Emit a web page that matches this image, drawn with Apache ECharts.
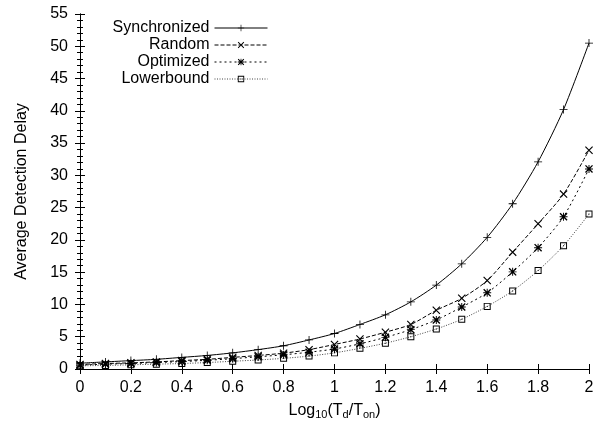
<!DOCTYPE html>
<html>
<head>
<meta charset="utf-8">
<script src="https://cdn.jsdelivr.net/npm/echarts@6/dist/echarts.min.js"></script>
<style>
  html, body { margin: 0; padding: 0; background: #fff; }
  #chart { width: 600px; height: 425px; }
</style>
</head>
<body>
<div id="chart"></div>
<script>
// x = log10(Td/Ton)
var xs = [0, 0.1, 0.2, 0.3, 0.4, 0.5, 0.6, 0.7, 0.8, 0.9, 1.0, 1.1, 1.2, 1.3, 1.4, 1.5, 1.6, 1.7, 1.8, 1.9, 2.0];

var synchronized = [0.9, 1.1, 1.3, 1.5, 1.8, 2.1, 2.5, 3.0, 3.6, 4.5, 5.5, 6.9, 8.4, 10.4, 13.0, 16.3, 20.4, 25.6, 32.1, 40.2, 50.5];
var random = [0.7, 0.85, 0.95, 1.1, 1.3, 1.5, 1.8, 2.1, 2.45, 3.0, 3.8, 4.65, 5.7, 6.9, 9.1, 10.95, 13.7, 18.1, 22.5, 27.1, 33.9];
var optimized = [0.6, 0.75, 0.85, 1.0, 1.15, 1.35, 1.6, 1.9, 2.2, 2.6, 3.1, 3.9, 4.9, 6.1, 7.6, 9.6, 11.8, 15.05, 18.8, 23.6, 31.0];
var lowerbound = [0.5, 0.55, 0.65, 0.75, 0.85, 1.0, 1.2, 1.4, 1.65, 2.0, 2.5, 3.2, 4.0, 5.0, 6.2, 7.7, 9.7, 12.1, 15.25, 19.1, 24.0];

var seriesNames = ['Synchronized', 'Random', 'Optimized', 'Lowerbound'];

// gnuplot-ish point types
var plusPath = 'path://M4.5,0H5.5V10H4.5Z M0,4.5H10V5.5H0Z';
var crossPath = 'path://M0,1L1,0L10,9L9,10Z M9,0L10,1L1,10L0,9Z';
var starPath = 'path://M4.4,0H5.6V10H4.4Z M0,4.4H10V5.6H0Z M0,1.2L1.2,0L10,8.8L8.8,10Z M8.8,0L10,1.2L1.2,10L0,8.8Z';
var boxPath = 'path://M0,0H10V10H0Z M1.4,1.4V8.6H8.6V1.4Z M4.3,4.3H5.7V5.7H4.3Z';

var font = 'Liberation Sans, Arial, Helvetica, sans-serif';

function pairs(ys) {
  return xs.map(function (x, i) { return [x, ys[i]]; });
}

function makeSeries(name, ys, symbol, size, dash, lineColor) {
  return {
    name: name,
    type: 'line',
    data: pairs(ys),
    smooth: 0.25,
    symbol: symbol,
    symbolSize: size,
    showAllSymbol: true,
    itemStyle: { color: '#000' },
    lineStyle: { color: lineColor, width: 1, type: dash },
    emphasis: { disabled: true },
    animation: false
  };
}

var chart = echarts.init(document.getElementById('chart'));

var option = {
  backgroundColor: '#fff',
  textStyle: { fontFamily: font, color: '#000' },
  grid: { left: 80, right: 11, top: 14, bottom: 53 },
  legend: {
    data: seriesNames,
    orient: 'vertical',
    align: 'right',
    right: 332,
    top: 20,
    itemWidth: 53,
    itemHeight: 8,
    itemGap: 1,
    padding: 0,
    lineStyle: { width: 1 },
    textStyle: { fontFamily: font, fontSize: 16, color: '#000' },
    selectedMode: false
  },
  xAxis: [{
    type: 'value',
    min: 0,
    max: 2,
    interval: 0.2,
    name: 'Log{sub|10}(T{sub|d}/T{sub|on})',
    nameLocation: 'middle',
    nameGap: 32,
    nameTextStyle: {
      fontSize: 16,
      color: '#000',
      rich: { sub: { fontSize: 11, padding: [8, 0, 0, 0] } }
    },
    axisLine: { lineStyle: { color: '#000', width: 1 } },
    axisTick: { inside: true, length: 5, lineStyle: { color: '#000' } },
    axisLabel: { fontSize: 16, color: '#000', margin: 11 },
    splitLine: { show: false }
  }, {
    type: 'value',
    position: 'top',
    min: 0,
    max: 2,
    interval: 0.2,
    axisLine: { lineStyle: { color: '#000', width: 1 } },
    axisTick: { inside: true, length: 5, lineStyle: { color: '#000' } },
    axisLabel: { show: false },
    splitLine: { show: false }
  }],
  yAxis: [{
    type: 'value',
    min: 0,
    max: 55,
    interval: 5,
    name: 'Average Detection Delay',
    nameLocation: 'middle',
    nameGap: 50,
    nameTextStyle: { fontSize: 16, color: '#000' },
    axisLine: { show: true, lineStyle: { color: '#000', width: 1 } },
    axisTick: { show: true, inside: true, length: 5, lineStyle: { color: '#000' } },
    minorTick: { show: true, splitNumber: 5, length: 3, lineStyle: { color: '#000' } },
    axisLabel: { fontSize: 16, color: '#000', margin: 12 },
    splitLine: { show: false }
  }, {
    type: 'value',
    position: 'right',
    min: 0,
    max: 55,
    interval: 5,
    axisLine: { show: true, lineStyle: { color: '#000', width: 1 } },
    axisTick: { show: true, inside: true, length: 5, lineStyle: { color: '#000' } },
    minorTick: { show: true, splitNumber: 5, length: 3, lineStyle: { color: '#000' } },
    axisLabel: { show: false },
    splitLine: { show: false }
  }],
  series: [
    makeSeries('Synchronized', synchronized, plusPath, 8, 'solid', '#000'),
    makeSeries('Random', random, crossPath, 8, [4, 2], '#000'),
    makeSeries('Optimized', optimized, starPath, 8, [2, 3], '#000'),
    makeSeries('Lowerbound', lowerbound, boxPath, 7, [1, 1.5], '#444')
  ]
};

chart.setOption(option);
</script>
</body>
</html>
